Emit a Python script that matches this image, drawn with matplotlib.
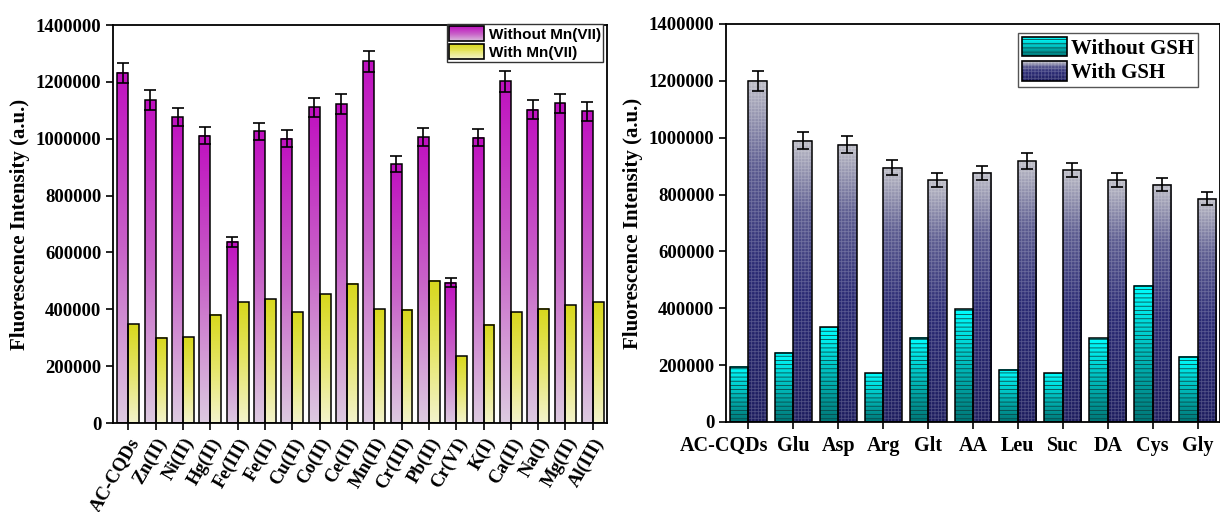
import numpy as np
import matplotlib
matplotlib.use("Agg")
import matplotlib.pyplot as plt
import matplotlib.transforms as mtransforms
from matplotlib.colors import LinearSegmentedColormap
from matplotlib.patches import Rectangle, Patch
from matplotlib.legend_handler import HandlerBase

# ---------------- data ----------------
ions = ["AC-CQDs", "Zn(II)", "Ni(II)", "Hg(II)", "Fe(III)", "Fe(II)", "Cu(II)", "Co(II)",
        "Ce(II)", "Mn(II)", "Cr(III)", "Pb(II)", "Cr(VI)", "K(I)", "Ca(II)", "Na(I)",
        "Mg(II)", "Al(III)"]
without_mn = [1232000, 1136000, 1076000, 1010000, 637000, 1027000, 1000000, 1111000,
              1122000, 1273000, 911000, 1006000, 494000, 1003000, 1202000, 1102000,
              1124000, 1096000]
without_mn_err = [36000, 35000, 33000, 30000, 18000, 30000, 30000, 33000,
                  34000, 37000, 27000, 30000, 16000, 30000, 36000, 34000,
                  34000, 32000]
with_mn = [347000, 300000, 301000, 380000, 424000, 436000, 390000, 453000,
           490000, 401000, 399000, 501000, 235000, 345000, 390000, 402000,
           414000, 424000]

analytes = ["AC-CQDs", "Glu", "Asp", "Arg", "Glt", "AA", "Leu", "Suc", "DA", "Cys", "Gly"]
without_gsh = [194000, 244000, 334000, 172000, 296000, 396000, 184000, 172000, 295000, 480000, 230000]
with_gsh = [1200000, 990000, 976000, 895000, 851000, 877000, 918000, 886000, 851000, 835000, 785000]
with_gsh_err = [36000, 30000, 30000, 25000, 25000, 25000, 27000, 25000, 25000, 24000, 23000]

yticks = [0, 200000, 400000, 600000, 800000, 1000000, 1200000, 1400000]
ylab = "Fluorescence Intensity (a.u.)"

# ---------------- style ----------------
SERIF = "Liberation Serif"
SANS = "Liberation Sans"
plt.rcParams["hatch.linewidth"] = 0.6

PURPLE = [(0.0, "#dccae0"), (0.5, "#c862c8"), (1.0, "#c010c0")]
YELLOW = [(0.0, "#f3f3cc"), (0.5, "#e6e66a"), (1.0, "#d8d81c")]
CYAN = [(0.0, "#007676"), (0.5, "#00baba"), (1.0, "#00ffff")]
NAVY = [(0.0, "#1c1c5e"), (0.45, "#2a2a74"), (0.75, "#5c5c90"), (1.0, "#bdbdc6")]
NAVY_HATCH = (1, 1, 1, 0.22)


def cmap_of(stops):
    return LinearSegmentedColormap.from_list("g", stops)


def grad_bars(ax, xs, hs, width, stops, hatch=None, hatchcolor=None, lw=1.1):
    cm = cmap_of(stops)
    grad = np.linspace(0, 1, 256).reshape(-1, 1)
    for x, h in zip(xs, hs):
        ax.imshow(grad, cmap=cm, extent=(x - width / 2, x + width / 2, 0, h),
                  origin="lower", aspect="auto", zorder=1, interpolation="bilinear")
    if hatch:
        ax.bar(xs, hs, width, facecolor="none", edgecolor=hatchcolor, hatch=hatch,
               linewidth=0, zorder=2)
    ax.bar(xs, hs, width, facecolor="none", edgecolor="black", linewidth=lw, zorder=3)


class GradHandler(HandlerBase):
    def __init__(self, stops, hatch=None, hatchcolor=None):
        super().__init__()
        self.stops = stops
        self.hatch = hatch
        self.hatchcolor = hatchcolor

    def create_artists(self, legend, orig_handle, xdescent, ydescent, width, height,
                       fontsize, trans):
        cm = cmap_of(self.stops)
        arts = []
        n = 16
        x0, y0 = -xdescent, -ydescent
        for i in range(n):
            c = cm((i + 0.5) / n)
            arts.append(Rectangle((x0, y0 + i * height / n), width, height / n * 1.08,
                                  facecolor=c, edgecolor="none", linewidth=0,
                                  antialiased=False, transform=trans))
        if self.hatch:
            arts.append(Rectangle((x0, y0), width, height, facecolor="none",
                                  edgecolor=self.hatchcolor, hatch=self.hatch,
                                  linewidth=0, transform=trans))
        arts.append(Rectangle((x0, y0), width, height, facecolor="none",
                              edgecolor="black", linewidth=1.2, transform=trans))
        return arts


def style_axes(ax):
    for s in ax.spines.values():
        s.set_linewidth(1.3)
        s.set_color("black")
    ax.tick_params(axis="both", direction="out", length=5, width=1.2, top=False, right=False)
    ax.set_ylim(0, 1400000)
    ax.set_yticks(yticks)
    ax.set_yticklabels([str(v) for v in yticks], fontfamily=SERIF, fontweight="bold",
                       fontsize=13.5)
    ax.set_ylabel(ylab, fontfamily=SERIF, fontweight="bold", fontsize=15)
    ax.yaxis.set_label_coords(-0.168, 0.5)


fig = plt.figure(figsize=(12.2, 5.12), dpi=100)
W, H = 1220, 512

# ---------------- left panel ----------------
axL = fig.add_axes([113.3 / W, (H - 423) / H, (607 - 113.3) / W, (423 - 25) / H])
xl = np.arange(len(ions))
wl = 0.40
grad_bars(axL, xl - wl / 2, without_mn, wl, PURPLE)
grad_bars(axL, xl + wl / 2, with_mn, wl, YELLOW)
axL.errorbar(xl - wl / 2, without_mn, yerr=without_mn_err, fmt="none", ecolor="black",
             elinewidth=1.2, capsize=4.5, capthick=1.2, zorder=4)
axL.set_xlim(-0.55, len(ions) - 1 + 0.52)
style_axes(axL)
axL.set_xticks(xl)
axL.set_xticklabels(ions, rotation=60, ha="right", rotation_mode="anchor",
                    fontfamily=SERIF, fontweight="bold", fontsize=13.5)

hL1, hL2 = Patch(), Patch()
legL = axL.legend([hL1, hL2], ["Without Mn(VII)", "With Mn(VII)"],
                  handler_map={hL1: GradHandler(PURPLE), hL2: GradHandler(YELLOW)},
                  loc="upper right", bbox_to_anchor=(603 / W, (H - 24) / H),
                  bbox_transform=fig.transFigure, borderaxespad=0,
                  prop={"family": SANS, "weight": "bold", "size": 11},
                  handlelength=2.3, handleheight=1.15, handletextpad=0.3,
                  labelspacing=0.12, borderpad=0.15, fancybox=False, framealpha=1,
                  edgecolor="#333333")
legL.get_frame().set_linewidth(1.0)
legL.set_zorder(10)

# ---------------- right panel ----------------
axR = fig.add_axes([726 / W, (H - 422) / H, (1220 - 726) / W, (422 - 24) / H])
xr = np.arange(len(analytes))
wr = 0.41
grad_bars(axR, xr - wr / 2, without_gsh, wr, CYAN, hatch="----", hatchcolor="#0a4a4a")
grad_bars(axR, xr + wr / 2, with_gsh, wr, NAVY, hatch="+++++", hatchcolor=NAVY_HATCH)
axR.errorbar(xr + wr / 2, with_gsh, yerr=with_gsh_err, fmt="none", ecolor="black",
             elinewidth=1.2, capsize=4.5, capthick=1.2, zorder=4)
axR.set_xlim(-0.5, len(analytes) - 0.5)
style_axes(axR)
axR.set_xticks(xr)
axR.set_xticklabels(analytes, fontfamily=SERIF, fontweight="bold", fontsize=14.5)
axR.tick_params(axis="x", pad=5)
# first label sits left of its tick in the reference
lab0 = axR.get_xticklabels()[0]
lab0.set_transform(lab0.get_transform() +
                   mtransforms.ScaledTranslation(-24 / 100, 0, fig.dpi_scale_trans))

hR1, hR2 = Patch(), Patch()
legR = axR.legend([hR1, hR2], ["Without GSH", "With GSH"],
                  handler_map={hR1: GradHandler(CYAN, "----", "#0a4a4a"),
                               hR2: GradHandler(NAVY, "+++++", NAVY_HATCH)},
                  loc="upper right", bbox_to_anchor=(1198 / W, (H - 33) / H),
                  bbox_transform=fig.transFigure, borderaxespad=0,
                  prop={"family": SERIF, "weight": "bold", "size": 15},
                  handlelength=2.15, handleheight=1.05, handletextpad=0.2,
                  labelspacing=0.12, borderpad=0.2, fancybox=False, framealpha=1,
                  edgecolor="#555555")
legR.get_frame().set_linewidth(1.0)
legR.set_zorder(10)

fig.savefig("out.png", dpi=100)
